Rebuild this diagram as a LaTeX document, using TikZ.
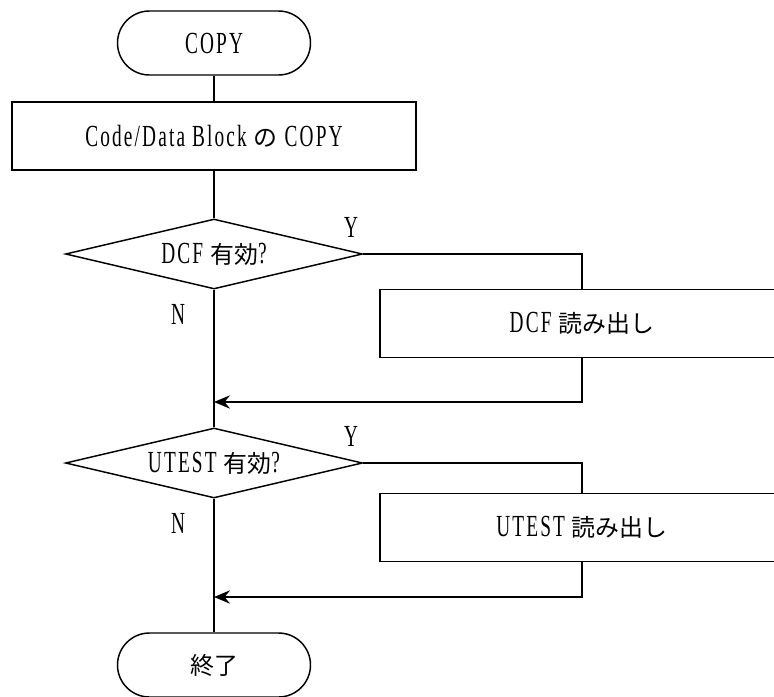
\documentclass[tikz,border=0pt]{standalone}
\usepackage{fontspec}
\setmainfont{Liberation Serif}[FakeStretch=0.63, LetterSpace=7]
\newfontfamily\jp{Noto Sans CJK JP}[Scale=0.78]
\usetikzlibrary{shapes.geometric,arrows.meta}

\tikzset{every picture/.style={line width=1.1pt}}
\tikzset{
  flowtext/.style={font=\fontsize{23pt}{26pt}\selectfont, inner sep=0pt},
  terminal/.style={flowtext, draw, rectangle, rounded corners=24pt, minimum width=144.75pt, minimum height=48pt},
  process/.style={flowtext, draw, rectangle, minimum width=303pt, minimum height=51pt},
  decision/.style={flowtext, draw, diamond, aspect=4.24, minimum width=222.75pt, minimum height=52.5pt},
  branchlabel/.style={flowtext},
  flowarrow/.style={-{Stealth[length=12pt,width=10pt,inset=4pt]}}
}

\begin{document}
\begin{tikzpicture}[x=0.75pt,y=0.75pt,yscale=-1,xscale=1]
\path[use as bounding box, clip] (0,0) rectangle (774,696);

%Shape: Terminal
\node [terminal] (start) at (214,43) {COPY};
%Shape: Rectangle
\node [process] (copyblk) at (214,136) {Code/Data Block {\jp の} COPY};
%Shape: Diamond
\node [decision] (dcfq) at (214,254) {DCF {\jp 有効}?};
%Shape: Rectangle
\node [process] (dcfrd) at (582,323.5) {DCF {\jp 読み出し}};
%Shape: Diamond
\node [decision] (utestq) at (214,463) {UTEST {\jp 有効}?};
%Shape: Rectangle
\node [process] (utestrd) at (582,527.5) {UTEST {\jp 読み出し}};
%Shape: Terminal
\node [terminal] (stop) at (214,665) {{\jp 終了}};

\coordinate (dcfjoin) at (214,402);
\coordinate (utestjoin) at (214,597);

%Straight Lines
\draw (start) -- (copyblk);
\draw (copyblk) -- (dcfq);
\draw (dcfq.south) -- (utestq.north);
\draw (utestq.south) -- (stop.north);
%Straight Lines
\draw (dcfq.east) -| (dcfrd.north);
\draw [flowarrow] (dcfrd.south) |- (dcfjoin);
\draw (utestq.east) -| (utestrd.north);
\draw [flowarrow] (utestrd.south) |- (utestjoin);

% Text Node
\node [branchlabel] (dcfy) at (351,227) {Y};
% Text Node
\node [branchlabel] (dcfn) at (178,314) {N};
% Text Node
\node [branchlabel] (utesty) at (351,436) {Y};
% Text Node
\node [branchlabel] (utestn) at (178,523) {N};

\end{tikzpicture}
\end{document}
